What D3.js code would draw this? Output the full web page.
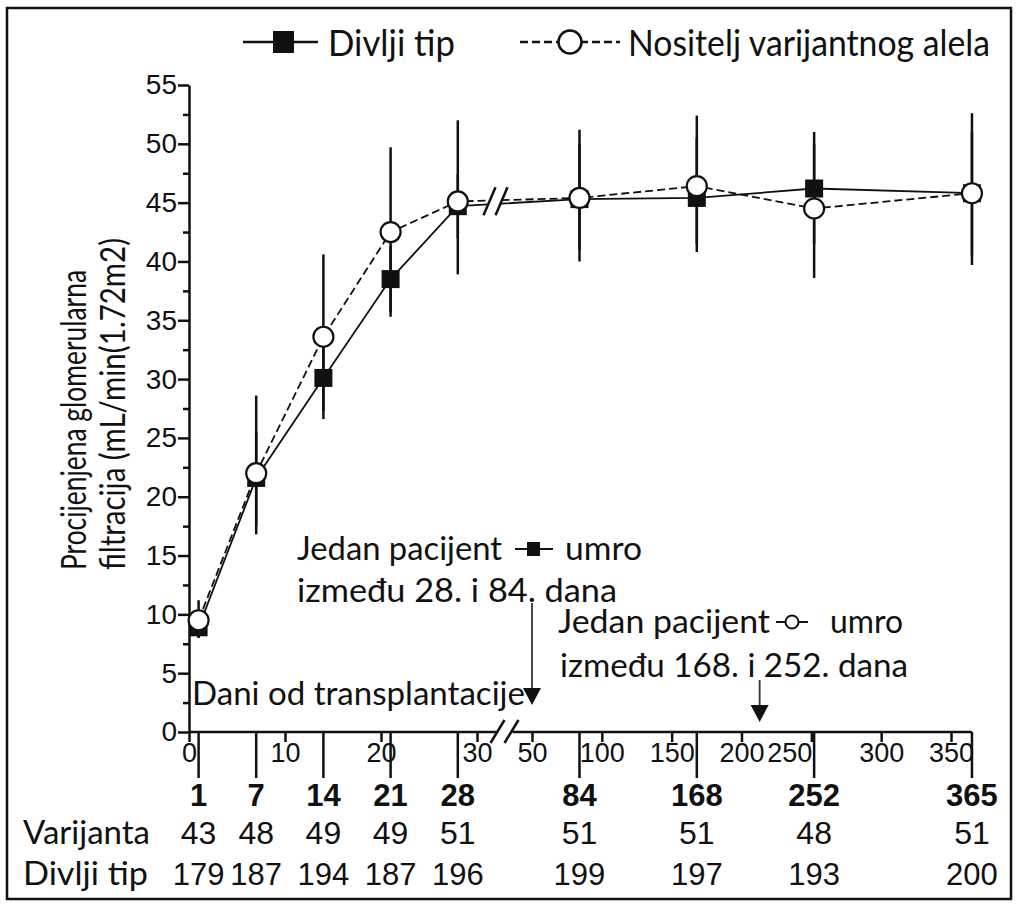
<!DOCTYPE html>
<html>
<head>
<meta charset="utf-8">
<script src="https://cdn.jsdelivr.net/npm/d3@7"></script>
<style>
  body { margin: 0; background: #fff; }
  .num { font-family: "Liberation Sans", Arial, sans-serif; fill: #111; }
  .cal { font-family: Lato, "Open Sans", sans-serif; fill: #111; }
  .axis path, .axis line { stroke: #111; stroke-width: 2.5; }
</style>
</head>
<body>
<svg width="1018" height="904"></svg>
<script>
// days after transplantation
var days = [1, 7, 14, 21, 28, 84, 168, 252, 365];

// Divlji tip (squares)
var wildMean = [8.9, 21.6, 30.1, 38.5, 44.7, 45.3, 45.4, 46.2, 45.8];
var wildLow  = [8.0, 17.5, 27.3, 35.7, 42.0, 41.0, 41.5, 41.5, 40.5];
var wildHigh = [9.9, 25.5, 32.8, 41.3, 47.4, 50.0, 50.5, 51.0, 51.0];

// Nositelj varijantnog alela (circles)
var varMean = [9.5, 22.0, 33.6, 42.5, 45.1, 45.4, 46.4, 44.5, 45.8];
var varLow  = [8.0, 16.8, 26.6, 35.3, 38.9, 40.0, 40.8, 38.6, 39.7];
var varHigh = [11.2, 28.6, 40.6, 49.7, 52.0, 51.2, 52.4, 50.0, 52.6];

// patients per time point
var varN  = [43, 48, 49, 49, 51, 51, 51, 48, 51];
var wildN = [179, 187, 194, 187, 196, 199, 197, 193, 200];

var yTicks = d3.range(0, 56, 5);
var yMinor = d3.range(2.5, 55, 5);
var xTicksEarly = [0, 10, 20, 30];
var xTicksLate = [50, 100, 150, 200, 250, 300, 350];
var arrowDays = [50, 213];

var svg = d3.select("svg");

var y = d3.scaleLinear().domain([0, 55]).range([732, 85]);
var xEarly = d3.scaleLinear().domain([0, 30]).range([189, 477]);
var xLate = d3.scaleLinear().domain([50, 350]).range([532, 951]);
function x(d) { return d <= 31 ? xEarly(d) : xLate(d); }
var breakMid = (xEarly(30) + xLate(50)) / 2;

// calibri-like text, squeezed/stretched to the width seen in the original
function label(parent, px, py, size, len, str) {
  return parent.append("text").attr("class", "cal")
      .attr("x", px).attr("y", py)
      .style("font-size", size + "px")
      .attr("textLength", len).attr("lengthAdjust", "spacingAndGlyphs")
      .text(str);
}

// frame
svg.append("rect")
    .attr("x", 7).attr("y", 8).attr("width", 1004).attr("height", 891)
    .attr("fill", "none").attr("stroke", "#111").attr("stroke-width", 2.5);

// y axis
var yAxis = svg.append("g")
    .attr("class", "axis")
    .attr("transform", "translate(" + xEarly(0) + ",0)")
    .call(d3.axisLeft(y).tickValues(yTicks).tickSize(11).tickSizeOuter(0).tickPadding(1));
yAxis.attr("font-size", null);
yAxis.selectAll("text").attr("class", "num").style("font-size", "28px").attr("font-family", null);
svg.append("g")
    .attr("class", "axis")
    .attr("transform", "translate(" + xEarly(0) + ",0)")
    .call(d3.axisLeft(y).tickValues(yMinor).tickSize(6).tickFormat(""))
    .select(".domain").remove();

// x axis, two pieces with a break
function bottomAxis(scale, vals) {
  var g = svg.append("g")
      .attr("class", "axis")
      .attr("transform", "translate(0," + y(0) + ")")
      .call(d3.axisBottom(scale).tickValues(vals).tickSize(10).tickPadding(1));
  g.attr("font-size", null);
  g.select(".domain").remove();
  g.selectAll("text").attr("class", "num").style("font-size", "27px").attr("font-family", null);
  return g;
}
bottomAxis(xEarly, xTicksEarly);
var lateAxis = bottomAxis(xLate, xTicksLate);
// in the original the 250 label sits left of its tick
lateAxis.selectAll(".tick text").filter(function(d) { return d === 250; }).attr("dx", -22);

svg.append("line")
    .attr("x1", xEarly(0)).attr("x2", breakMid - 8)
    .attr("y1", y(0)).attr("y2", y(0))
    .attr("stroke", "#111").attr("stroke-width", 2.5);
svg.append("line")
    .attr("x1", breakMid + 8).attr("x2", x(365))
    .attr("y1", y(0)).attr("y2", y(0))
    .attr("stroke", "#111").attr("stroke-width", 2.5);
[-7, 7].forEach(function(o) {
  svg.append("line")
      .attr("x1", breakMid + o - 7).attr("y1", y(0) + 11)
      .attr("x2", breakMid + o + 7).attr("y2", y(0) - 12)
      .attr("stroke", "#111").attr("stroke-width", 2.5);
});

// long ticks at measurement days
svg.selectAll(".dayTick")
    .data(days)
    .enter().append("line")
    .attr("class", "dayTick")
    .attr("x1", x).attr("x2", x)
    .attr("y1", y(0)).attr("y2", y(0) + 46)
    .attr("stroke", "#111").attr("stroke-width", 2.5);

// table under the axis
svg.selectAll(".dayLabel")
    .data(days)
    .enter().append("text")
    .attr("class", "num")
    .attr("x", x).attr("y", 806)
    .attr("text-anchor", "middle")
    .style("font-size", "31px").style("font-weight", "bold")
    .text(function(d) { return d; });

label(svg, 23, 844, 33, 127, "Varijanta");
label(svg, 23, 885, 33, 125, "Divlji tip");

svg.selectAll(".varN")
    .data(varN)
    .enter().append("text")
    .attr("class", "num")
    .attr("x", function(d, i) { return x(days[i]); }).attr("y", 844)
    .attr("text-anchor", "middle")
    .style("font-size", "32px")
    .text(function(d) { return d; });

svg.selectAll(".wildN")
    .data(wildN)
    .enter().append("text")
    .attr("class", "num")
    .attr("x", function(d, i) { return x(days[i]); }).attr("y", 885)
    .attr("text-anchor", "middle")
    .style("font-size", "31px")
    .text(function(d) { return d; });

// y title
var yTitle = svg.append("g").attr("transform", "translate(0,570) rotate(-90)");
label(yTitle, 0, 86, 34, 300, "Procijenjena glomerularna");
label(yTitle, 0, 125, 34, 332, "filtracija (mL/min(1.72m2)");

// error bars
function errorBars(low, high) {
  svg.append("g").selectAll("line")
      .data(days)
      .enter().append("line")
      .attr("x1", x).attr("x2", x)
      .attr("y1", function(d, i) { return y(low[i]); })
      .attr("y2", function(d, i) { return y(high[i]); })
      .attr("stroke", "#111").attr("stroke-width", 2.5);
}
errorBars(varLow, varHigh);
errorBars(wildLow, wildHigh);

// lines
var line = d3.line()
    .x(function(d) { return x(d[0]); })
    .y(function(d) { return y(d[1]); });

svg.append("path")
    .attr("d", line(d3.zip(days, wildMean)))
    .attr("fill", "none").attr("stroke", "#111").attr("stroke-width", 1.8);
svg.append("path")
    .attr("d", line(d3.zip(days, varMean)))
    .attr("fill", "none").attr("stroke", "#111").attr("stroke-width", 1.8)
    .attr("stroke-dasharray", "8,4");

// break marks on the lines
var lineY = y(d3.mean([wildMean[4], wildMean[5], varMean[4], varMean[5]]));
var bx = breakMid - 9;
svg.append("path")
    .attr("d", "M" + (bx - 12) + "," + (lineY + 14) + "L" + (bx - 1) + "," + (lineY - 14) +
               "L" + (bx + 11) + "," + (lineY - 14) + "L" + bx + "," + (lineY + 14) + "Z")
    .attr("fill", "#fff");
[-6, 6].forEach(function(o) {
  svg.append("line")
      .attr("x1", bx + o - 6).attr("y1", lineY + 14)
      .attr("x2", bx + o + 6).attr("y2", lineY - 14)
      .attr("stroke", "#111").attr("stroke-width", 2.5);
});

// markers
svg.selectAll(".sq")
    .data(days)
    .enter().append("rect")
    .attr("x", function(d) { return x(d) - 9; })
    .attr("y", function(d, i) { return y(wildMean[i]) - 9; })
    .attr("width", 18).attr("height", 18)
    .attr("fill", "#111");

svg.selectAll(".ci")
    .data(days)
    .enter().append("circle")
    .attr("cx", x)
    .attr("cy", function(d, i) { return y(varMean[i]); })
    .attr("r", 10)
    .attr("fill", "#fff").attr("stroke", "#111").attr("stroke-width", 2.2);

// legend
var leg = svg.append("g");
leg.append("line").attr("x1", 243).attr("x2", 318).attr("y1", 42).attr("y2", 42)
    .attr("stroke", "#111").attr("stroke-width", 2.5);
leg.append("rect").attr("x", 273).attr("y", 31).attr("width", 21).attr("height", 22).attr("fill", "#111");
label(leg, 328, 56, 36, 127, "Divlji tip");
leg.append("line").attr("x1", 520).attr("x2", 620).attr("y1", 42).attr("y2", 42)
    .attr("stroke", "#111").attr("stroke-width", 2.5).attr("stroke-dasharray", "8,4");
leg.append("circle").attr("cx", 570).attr("cy", 42).attr("r", 11.5)
    .attr("fill", "#fff").attr("stroke", "#111").attr("stroke-width", 2.5);
label(leg, 628, 56, 36, 362, "Nositelj varijantnog alela");

// annotations
label(svg, 192, 705, 32, 333, "Dani od transplantacije");

label(svg, 297, 560, 32, 205, "Jedan pacijent");
svg.append("line").attr("x1", 515).attr("x2", 553).attr("y1", 549).attr("y2", 549)
    .attr("stroke", "#111").attr("stroke-width", 2);
svg.append("rect").attr("x", 527).attr("y", 542).attr("width", 13).attr("height", 14).attr("fill", "#111");
label(svg, 565, 560, 32, 77, "umro");
label(svg, 297, 602, 32, 320, "između 28. i 84.  dana");

label(svg, 558, 633, 32, 212, "Jedan pacijent");
svg.append("line").attr("x1", 776).attr("x2", 808).attr("y1", 622).attr("y2", 622)
    .attr("stroke", "#111").attr("stroke-width", 2);
svg.append("circle").attr("cx", 792).attr("cy", 622).attr("r", 6.5)
    .attr("fill", "#fff").attr("stroke", "#111").attr("stroke-width", 2);
label(svg, 830, 633, 32, 73, "umro");
label(svg, 560, 677, 32, 348, "između 168. i 252. dana");

// arrows
var arrowTop = [603, 680];
var arrowTip = [705, 722];
arrowDays.forEach(function(d, i) {
  var ax = xLate(d);
  svg.append("line").attr("x1", ax).attr("x2", ax)
      .attr("y1", arrowTop[i]).attr("y2", arrowTip[i] - 15)
      .attr("stroke", "#333").attr("stroke-width", 1.8);
  svg.append("path")
      .attr("d", "M" + (ax - 9) + "," + (arrowTip[i] - 17) + "L" + (ax + 9) + "," + (arrowTip[i] - 17) +
                 "L" + ax + "," + arrowTip[i] + "Z")
      .attr("fill", "#111");
});
</script>
</body>
</html>
